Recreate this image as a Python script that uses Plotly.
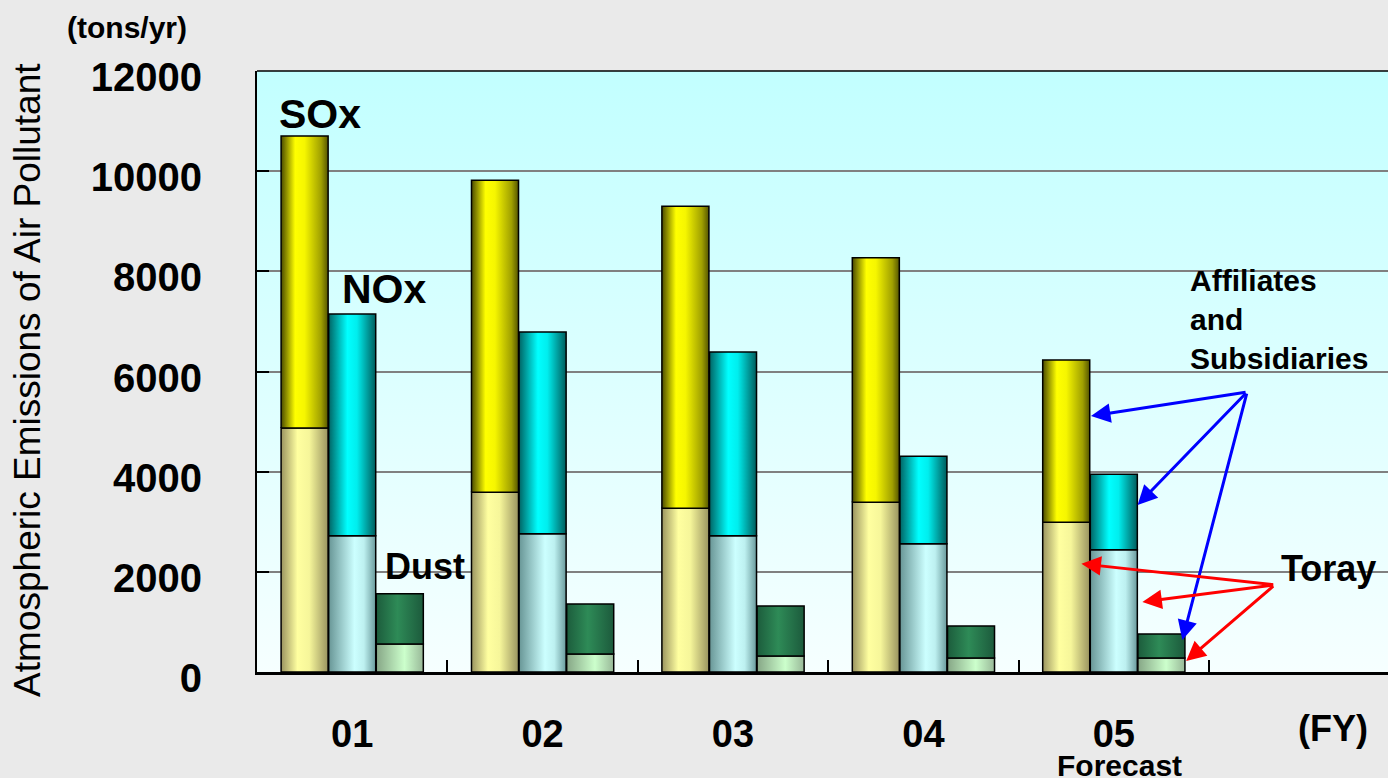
import base64
import plotly.graph_objects as go

# Fiscal years on the category axis
years = ["01", "02", "03", "04", "05"]

# Emissions in tons/yr, split into Toray (lower block) and affiliates & subsidiaries (upper block)
sox_toray = [4870, 3590, 3270, 3390, 2990]
sox_affiliates = [5830, 6230, 6030, 4880, 3240]
nox_toray = [2720, 2760, 2720, 2560, 2440]
nox_affiliates = [4430, 4030, 3670, 1750, 1510]
dust_toray = [560, 360, 320, 280, 280]
dust_affiliates = [1000, 1000, 1000, 640, 480]

y_ticks = [0, 2000, 4000, 6000, 8000, 10000, 12000]
y_tick_text = [str(v) for v in y_ticks]

FONT = "Liberation Sans, Arial, Helvetica, sans-serif"
BAR_W = 0.247

# Cylinder-style horizontal shading for each block
SOX_AFF = [[0, "#4a4a00"], [0.3, "#ffff00"], [0.5, "#f6f600"], [0.85, "#a0a000"], [1, "#555500"]]
SOX_TOR = [[0, "#9a9460"], [0.35, "#ffffa0"], [0.6, "#f6f69a"], [1, "#9a9460"]]
NOX_AFF = [[0, "#006464"], [0.4, "#00ffff"], [0.6, "#00eeee"], [1, "#005c5c"]]
NOX_TOR = [[0, "#689696"], [0.55, "#ccffff"], [0.75, "#bdf0f0"], [1, "#6a9a9c"]]
DUST_AFF = [[0, "#1c5c3c"], [0.45, "#2e8b57"], [1, "#1c5a3c"]]
DUST_TOR = [[0, "#86a686"], [0.6, "#ccffcc"], [1, "#98b898"]]

groups = [
    (-0.25, sox_toray, sox_affiliates, SOX_TOR, SOX_AFF),
    (0.0, nox_toray, nox_affiliates, NOX_TOR, NOX_AFF),
    (0.25, dust_toray, dust_affiliates, DUST_TOR, DUST_AFF),
]

fig = go.Figure()


def add_block(xc, base, height, shade):
    x0, x1 = xc - BAR_W / 2, xc + BAR_W / 2
    top = base + height
    fig.add_trace(go.Scatter(
        x=[x0, x0, x1, x1, x0], y=[base, top, top, base, base],
        mode="lines", fill="toself",
        line=dict(color="black", width=1.5),
        fillgradient=dict(type="horizontal", colorscale=shade),
        hoverinfo="skip", showlegend=False,
    ))


for offset, toray, affil, shade_t, shade_a in groups:
    for i in range(len(years)):
        add_block(i + offset, 0, toray[i], shade_t)
        add_block(i + offset, toray[i], affil[i], shade_a)

# Plot-area backdrop: vertical pale-cyan gradient
svg = ('<svg xmlns="http://www.w3.org/2000/svg" width="10" height="100" preserveAspectRatio="none">'
       '<defs><linearGradient id="g" x1="0" y1="0" x2="0" y2="1">'
       '<stop offset="0" stop-color="#c2ffff"/><stop offset="1" stop-color="#f6ffff"/>'
       '</linearGradient></defs><rect width="10" height="100" fill="url(#g)"/></svg>')
bg_src = "data:image/svg+xml;base64," + base64.b64encode(svg.encode()).decode()

bold = dict(family=FONT, color="black", weight="bold")


def label(text, x, y, size, **kw):
    opts = dict(xanchor="center", yanchor="middle")
    opts.update(kw)
    fig.add_annotation(text=text, x=x, y=y, showarrow=False,
                       font=dict(bold, size=size), **opts)


label("SOx", -0.17, 11140, 41)
label("NOx", 0.17, 7650, 41)
label("Dust", 0.38, 2100, 36)
label("Toray", 5.13, 2060, 36)
label("Affiliates<br>and<br>Subsidiaries", 4.39, 7030, 30, xanchor="left", align="left")
label("Forecast", 4.03, 0, 30, yref="paper", yshift=-93)
label("(FY)", 5.15, 0, 36, yref="paper", yshift=-56)
label("(tons/yr)", -0.115, 1, 30, xref="paper", yref="paper", yshift=44)

fig.add_annotation(text="Atmospheric Emissions of Air Pollutant", textangle=-90,
                   x=-0.2025, y=0.486, xref="paper", yref="paper", showarrow=False,
                   xanchor="center", yanchor="middle",
                   font=dict(family=FONT, size=37, color="black"))

# Pointer arrows: (head x, head y, tail x, tail y)
blue_arrows = [(3.88, 5110, 4.70, 5590), (4.125, 3335, 4.70, 5590), (4.36, 640, 4.70, 5590)]
red_arrows = [(3.83, 2160, 4.845, 1740), (4.15, 1400, 4.845, 1740), (4.38, 220, 4.845, 1740)]
for color, arrows in (("#0000ff", blue_arrows), ("#ff0000", red_arrows)):
    for hx, hy, tx, ty in arrows:
        fig.add_annotation(x=hx, y=hy, ax=tx, ay=ty, axref="x", ayref="y", text="",
                           showarrow=True, arrowhead=2, arrowsize=1.3, arrowwidth=3,
                           arrowcolor=color, standoff=0)

fig.add_shape(type="line", xref="paper", yref="paper", x0=0, x1=1, y0=1, y1=1,
              line=dict(color="black", width=1.5))

fig.update_layout(
    width=1388, height=778,
    margin=dict(l=257, r=0, t=71, b=106),
    paper_bgcolor="#eaeaea", plot_bgcolor="#e2ffff",
    images=[dict(source=bg_src, xref="paper", yref="paper", x=0, y=1, sizex=1, sizey=1,
                 xanchor="left", yanchor="top", sizing="stretch", layer="below")],
    xaxis=dict(
        range=[-0.5, 5.44], tickvals=list(range(len(years))), ticktext=years,
        ticks="", showgrid=False, zeroline=False,
        showline=True, linecolor="black", linewidth=3,
        tickfont=dict(bold, size=38), ticklabelstandoff=26,
        minor=dict(tickvals=[i + 0.5 for i in range(len(years))], ticks="inside",
                   ticklen=12, tickwidth=2, tickcolor="black", showgrid=False),
    ),
    yaxis=dict(
        range=[0, 12000], tickvals=y_ticks, ticktext=y_tick_text,
        ticks="inside", ticklen=12, tickwidth=2,
        tickcolor="black", showgrid=True, gridcolor="#808080", gridwidth=2,
        zeroline=False, showline=True, linecolor="black", linewidth=2,
        tickfont=dict(bold, size=40), ticklabelstandoff=45, ticklabelshift=6,
    ),
)

fig.write_html("out.html")
